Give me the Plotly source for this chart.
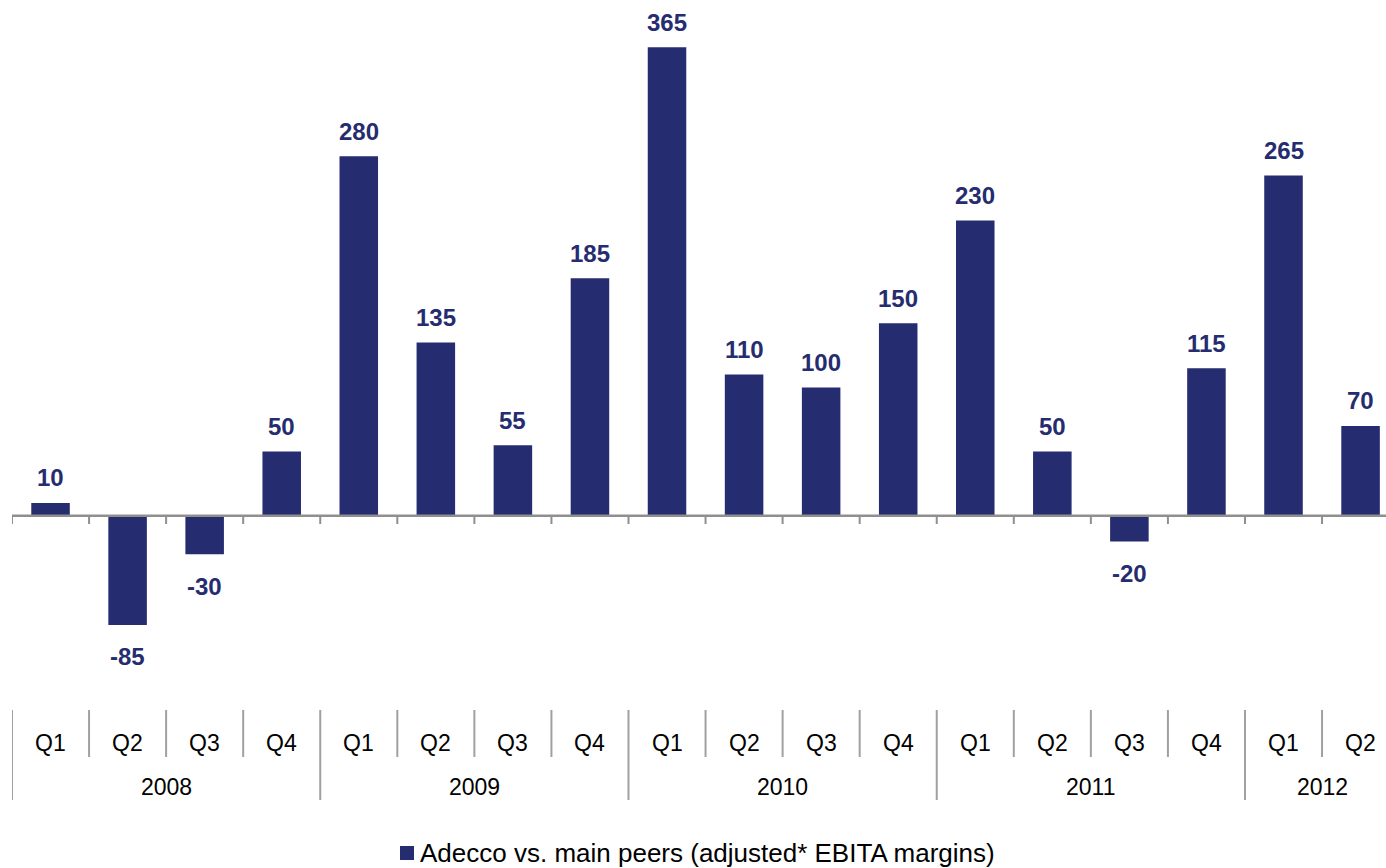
import plotly.graph_objects as go

# Quarterly gap in EBITA margin (basis points), Adecco vs. main peers
quarters = ["Q1", "Q2", "Q3", "Q4", "Q1", "Q2", "Q3", "Q4", "Q1", "Q2", "Q3", "Q4",
            "Q1", "Q2", "Q3", "Q4", "Q1", "Q2"]
years = ["2008", "2009", "2010", "2011", "2012"]
year_sizes = [4, 4, 4, 4, 2]
values = [10, -85, -30, 50, 280, 135, 55, 185, 365, 110, 100, 150, 230, 50, -20, 115, 265, 70]
series_name = "Adecco vs. main peers (adjusted* EBITA margins)"

W, H = 1386, 868
LEFT = 12
NAVY = "#252C6F"
GREY = "#8F8F8F"
FONT = "Liberation Sans, Arial, sans-serif"


def py(pixel_y):
    """Page pixel row -> paper y (plot area spans the full page height)."""
    return (H - pixel_y) / H


def px(pixel_x):
    """Page pixel column -> paper x."""
    return (pixel_x - LEFT) / (W - LEFT)


x_idx = list(range(len(quarters)))

fig = go.Figure()
fig.add_trace(go.Bar(
    x=x_idx, y=values, width=0.5, name=series_name,
    marker=dict(color=NAVY, line=dict(width=0)),
    showlegend=False,
))

annotations = []
# value labels
for i, v in enumerate(values):
    annotations.append(dict(
        x=i, y=v, xref="x", yref="y", text=f"<b>{v}</b>", showarrow=False,
        yanchor="middle", yshift=25 if v >= 0 else -32,
        font=dict(family=FONT, size=24, color=NAVY),
    ))
# quarter labels
for i, q in enumerate(quarters):
    annotations.append(dict(
        x=i, y=py(743), xref="x", yref="paper", text=q, showarrow=False,
        yanchor="middle", font=dict(family=FONT, size=23, color="#000000"),
    ))
# year labels
start = 0
year_edges = [0]
for yr, n in zip(years, year_sizes):
    annotations.append(dict(
        x=start + (n - 1) / 2, y=py(787), xref="x", yref="paper", text=yr,
        showarrow=False, yanchor="middle",
        font=dict(family=FONT, size=23, color="#000000"),
    ))
    start += n
    year_edges.append(start)

# legend entry
annotations.append(dict(
    x=px(418), y=py(853), xref="paper", yref="paper", text=series_name,
    showarrow=False, xanchor="left", yanchor="middle",
    font=dict(family=FONT, size=26, color="#000000"),
))

shapes = []
# zero baseline
shapes.append(dict(type="line", xref="paper", yref="y", x0=0, x1=1, y0=0, y1=0,
                   line=dict(color=GREY, width=2.5)))
for b in range(len(quarters) + 1):
    xb = b - 0.5
    # small tick on the baseline
    shapes.append(dict(type="line", xref="x", yref="paper", x0=xb, x1=xb,
                       y0=py(516), y1=py(524), line=dict(color=GREY, width=2)))
    # separators in the category table
    bottom = 800 if b in year_edges else 757
    shapes.append(dict(type="line", xref="x", yref="paper", x0=xb, x1=xb,
                       y0=py(710), y1=py(bottom), line=dict(color="#A0A0A0", width=2)))

# legend swatch
shapes.append(dict(type="rect", xref="paper", yref="paper",
                   x0=px(400), x1=px(414), y0=py(860), y1=py(846),
                   fillcolor=NAVY, line=dict(width=0)))

fig.update_layout(
    width=W, height=H,
    margin=dict(l=LEFT, r=0, t=0, b=0),
    paper_bgcolor="white", plot_bgcolor="white",
    xaxis=dict(visible=False, range=[-0.5, 17.33], domain=[0, 1]),
    yaxis=dict(visible=False, range=[-274.4, 401.8], domain=[0, 1]),
    annotations=annotations,
    shapes=shapes,
    showlegend=False,
    font=dict(family=FONT),
)

fig.write_html("out.html")
